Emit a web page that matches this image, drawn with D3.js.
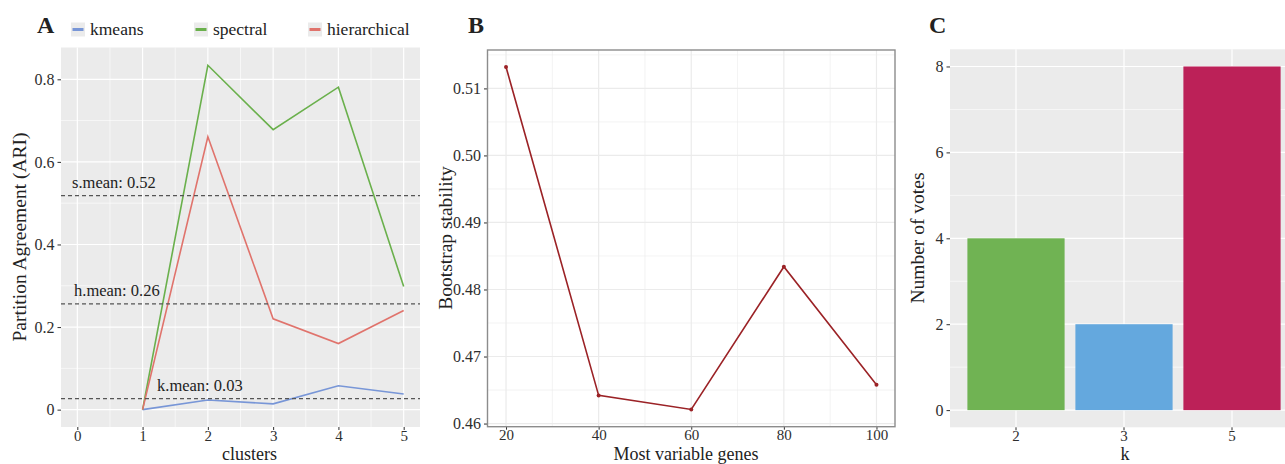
<!DOCTYPE html>
<html>
<head>
<meta charset="utf-8">
<script src="https://cdn.jsdelivr.net/npm/d3@7"></script>
<style>
  body { margin: 0; background: #fff; }
  svg text { font-family: "Liberation Serif", "Times New Roman", serif; }
</style>
</head>
<body>
<svg id="fig" width="1285" height="464" font-family="Liberation Serif"></svg>
<script>
// ---- data ----
let clusters = [1, 2, 3, 4, 5];
let kmeans = [0, 0.0235, 0.014, 0.058, 0.038];
let spectral = [0, 0.834, 0.678, 0.781, 0.298];
let hierarchical = [0, 0.661, 0.22, 0.16, 0.24];
let methodNames = ["kmeans", "spectral", "hierarchical"];
let meanLabels = ["k.mean: 0.03", "s.mean: 0.52", "h.mean: 0.26"];
let xTicksA = [0, 1, 2, 3, 4, 5];
let yTicksA = [0, 0.2, 0.4, 0.6, 0.8];

let genes = [20, 40, 60, 80, 100];
let stability = [0.5132, 0.4642, 0.4621, 0.4834, 0.4658];
let yTicksB = [0.46, 0.47, 0.48, 0.49, 0.50, 0.51];

let kValues = ["2", "3", "5"];
let votes = [4, 2, 8];
let yTicksC = [0, 2, 4, 6, 8];

let methodColors = ["#7896d7", "#6ab04c", "#e0736c"];
let barColors = ["#70b353", "#64a8de", "#bc2158"];

let svg = d3.select("#fig");
let tickCol = "#2e2e2e";
let serif = "Liberation Serif";
let titleSize = 18;
let titleY = 460;
let yTitleSize = 19.5;

function styleAxis(ax, size) {
    ax.attr("font-family", serif).attr("font-size", size || 16);
    ax.select(".domain").remove();
    ax.selectAll("line").attr("stroke", tickCol);
    ax.selectAll("text").attr("fill", tickCol);
}

// ---- Panel A ----
let xA = d3.scaleLinear().domain([-0.25, 5.25]).range([61, 420]);
let yA = d3.scaleLinear().domain([-0.042, 0.877]).range([427, 47.5]);

let gA = svg.append("g");
gA.append("rect")
    .attr("x", 61).attr("y", 47.5)
    .attr("width", 359).attr("height", 379.5)
    .attr("fill", "#ebebeb");

// minor grid
[0.5, 1.5, 2.5, 3.5, 4.5].forEach(d => {
    gA.append("line").attr("x1", xA(d)).attr("x2", xA(d))
        .attr("y1", 47.5).attr("y2", 427)
        .attr("stroke", "#fff").attr("stroke-width", 0.6);
});
[0.1, 0.3, 0.5, 0.7].forEach(d => {
    gA.append("line").attr("x1", 61).attr("x2", 420)
        .attr("y1", yA(d)).attr("y2", yA(d))
        .attr("stroke", "#fff").attr("stroke-width", 0.6);
});
// major grid
xTicksA.forEach(d => {
    gA.append("line").attr("x1", xA(d)).attr("x2", xA(d))
        .attr("y1", 47.5).attr("y2", 427)
        .attr("stroke", "#fff").attr("stroke-width", 1.2);
});
yTicksA.forEach(d => {
    gA.append("line").attr("x1", 61).attr("x2", 420)
        .attr("y1", yA(d)).attr("y2", yA(d))
        .attr("stroke", "#fff").attr("stroke-width", 1.2);
});

// axes
styleAxis(gA.append("g").attr("transform", "translate(61,0)")
    .call(d3.axisLeft(yA).tickValues(yTicksA).tickSize(3.5).tickPadding(3)
        .tickFormat(d => d === 0 ? "0" : d3.format(".1f")(d))));
styleAxis(gA.append("g").attr("transform", "translate(0,427)")
    .call(d3.axisBottom(xA).tickValues(xTicksA).tickSize(3).tickPadding(0)
        .tickFormat(d3.format("d"))), 15);

// series lines
let seriesA = [kmeans, spectral, hierarchical];
let lineA = d3.line().x((d, i) => xA(clusters[i])).y(d => yA(d));
seriesA.forEach((s, i) => {
    gA.append("path").datum(s)
        .attr("d", lineA)
        .attr("fill", "none")
        .attr("stroke", methodColors[i])
        .attr("stroke-width", 1.6);
});

// mean lines
let meansA = seriesA.map(s => d3.mean(s));
let labelX = [157, 72, 74];
meansA.forEach((m, i) => {
    gA.append("line").attr("x1", 61).attr("x2", 420)
        .attr("y1", yA(m)).attr("y2", yA(m))
        .attr("stroke", "#555").attr("stroke-width", 1.2)
        .attr("stroke-dasharray", "4,3");
    gA.append("text").attr("x", labelX[i]).attr("y", yA(m) - 8)
        .attr("font-family", serif)
        .attr("font-size", 16.5).attr("fill", "#222")
        .text(meanLabels[i]);
});

// legend
let legX = [71, 194, 308];
methodNames.forEach((n, i) => {
    gA.append("rect").attr("x", legX[i]).attr("y", 22.5)
        .attr("width", 14).attr("height", 14).attr("fill", "#ebebeb");
    gA.append("line").attr("x1", legX[i] + 1.5).attr("x2", legX[i] + 12.5)
        .attr("y1", 29.5).attr("y2", 29.5)
        .attr("stroke", methodColors[i]).attr("stroke-width", 3);
    gA.append("text").attr("x", legX[i] + 19).attr("y", 34.5)
        .attr("font-family", serif)
        .attr("font-size", 17.5).attr("fill", "#222").text(n);
});

gA.append("text").attr("x", 37).attr("y", 33)
    .attr("font-size", 24).attr("font-weight", "bold").attr("fill", "#222").text("A");
gA.append("text").attr("x", 249.5).attr("y", titleY)
    .attr("text-anchor", "middle").attr("font-size", titleSize).attr("fill", "#222").text("clusters");
gA.append("text").attr("transform", "translate(26,237) rotate(-90)")
    .attr("text-anchor", "middle").attr("font-size", yTitleSize).attr("fill", "#222")
    .text("Partition Agreement (ARI)");

// ---- Panel B ----
let xB = d3.scaleLinear().domain([16, 104]).range([487.5, 895]);
let yB = d3.scaleLinear().domain([0.45953, 0.51573]).range([426.7, 50]);

let gB = svg.append("g");
gB.append("rect")
    .attr("x", 487.5).attr("y", 50)
    .attr("width", 407.5).attr("height", 376.7)
    .attr("fill", "#fff");
[30, 50, 70, 90].forEach(d => {
    gB.append("line").attr("x1", xB(d)).attr("x2", xB(d))
        .attr("y1", 50).attr("y2", 426.7)
        .attr("stroke", "#ebebeb").attr("stroke-width", 0.6);
});
[0.465, 0.475, 0.485, 0.495, 0.505, 0.515].forEach(d => {
    gB.append("line").attr("x1", 487.5).attr("x2", 895)
        .attr("y1", yB(d)).attr("y2", yB(d))
        .attr("stroke", "#ebebeb").attr("stroke-width", 0.6);
});
genes.forEach(d => {
    gB.append("line").attr("x1", xB(d)).attr("x2", xB(d))
        .attr("y1", 50).attr("y2", 426.7)
        .attr("stroke", "#ebebeb").attr("stroke-width", 1.2);
});
yTicksB.forEach(d => {
    gB.append("line").attr("x1", 487.5).attr("x2", 895)
        .attr("y1", yB(d)).attr("y2", yB(d))
        .attr("stroke", "#ebebeb").attr("stroke-width", 1.2);
});

styleAxis(gB.append("g").attr("transform", "translate(487.5,0)")
    .call(d3.axisLeft(yB).tickValues(yTicksB).tickSize(3.5).tickPadding(3)
        .tickFormat(d3.format(".2f"))));
styleAxis(gB.append("g").attr("transform", "translate(0,426.7)")
    .call(d3.axisBottom(xB).tickValues(genes).tickSize(3).tickPadding(0)), 15);

gB.append("path").datum(stability)
    .attr("d", d3.line().x((d, i) => xB(genes[i])).y(d => yB(d)))
    .attr("fill", "none").attr("stroke", "#9b2226").attr("stroke-width", 1.6);
gB.selectAll(".pt").data(stability).enter().append("circle")
    .attr("cx", (d, i) => xB(genes[i])).attr("cy", d => yB(d))
    .attr("r", 2).attr("fill", "#9b2226");

gB.append("rect")
    .attr("x", 487.5).attr("y", 50)
    .attr("width", 407.5).attr("height", 376.7)
    .attr("fill", "none").attr("stroke", "#8c8c8c").attr("stroke-width", 1.4);

gB.append("text").attr("x", 468).attr("y", 33)
    .attr("font-size", 24).attr("font-weight", "bold").attr("fill", "#222").text("B");
gB.append("text").attr("x", 686).attr("y", titleY)
    .attr("text-anchor", "middle").attr("font-size", titleSize).attr("fill", "#222")
    .text("Most variable genes");
gB.append("text").attr("transform", "translate(452,238) rotate(-90)")
    .attr("text-anchor", "middle").attr("font-size", yTitleSize).attr("fill", "#222")
    .text("Bootstrap stability");

// ---- Panel C ----
let xC = d3.scaleBand().domain(kValues).range([1016 - 54, 1232 + 54]).paddingInner(0.1).paddingOuter(0.05);
let yC = d3.scaleLinear().domain([-0.4, 8.4]).range([427.3, 49.3]);
let xCenter = k => xC(k) + xC.bandwidth() / 2;

let gC = svg.append("g");
gC.append("rect")
    .attr("x", 950).attr("y", 49.3)
    .attr("width", 340).attr("height", 378)
    .attr("fill", "#ebebeb");
[1, 3, 5, 7].forEach(d => {
    gC.append("line").attr("x1", 950).attr("x2", 1290)
        .attr("y1", yC(d)).attr("y2", yC(d))
        .attr("stroke", "#fff").attr("stroke-width", 0.6);
});
yTicksC.forEach(d => {
    gC.append("line").attr("x1", 950).attr("x2", 1290)
        .attr("y1", yC(d)).attr("y2", yC(d))
        .attr("stroke", "#fff").attr("stroke-width", 1.2);
});
kValues.forEach(k => {
    gC.append("line").attr("x1", xCenter(k)).attr("x2", xCenter(k))
        .attr("y1", 49.3).attr("y2", 427.3)
        .attr("stroke", "#fff").attr("stroke-width", 1.2);
});

gC.selectAll(".bar").data(votes).enter().append("rect")
    .attr("x", (d, i) => xC(kValues[i]))
    .attr("y", d => yC(d))
    .attr("width", xC.bandwidth())
    .attr("height", d => yC(0) - yC(d))
    .attr("fill", (d, i) => barColors[i]);

styleAxis(gC.append("g").attr("transform", "translate(950,0)")
    .call(d3.axisLeft(yC).tickValues(yTicksC).tickSize(3.5).tickPadding(3)));
styleAxis(gC.append("g").attr("transform", "translate(0,427.3)")
    .call(d3.axisBottom(xC).tickSize(3).tickPadding(0)), 15);

gC.append("text").attr("x", 929).attr("y", 33)
    .attr("font-size", 24).attr("font-weight", "bold").attr("fill", "#222").text("C");
gC.append("text").attr("x", 1125).attr("y", titleY)
    .attr("text-anchor", "middle").attr("font-size", titleSize).attr("fill", "#222").text("k");
gC.append("text").attr("transform", "translate(924,238) rotate(-90)")
    .attr("text-anchor", "middle").attr("font-size", yTitleSize).attr("fill", "#222")
    .text("Number of votes");
</script>
</body>
</html>
